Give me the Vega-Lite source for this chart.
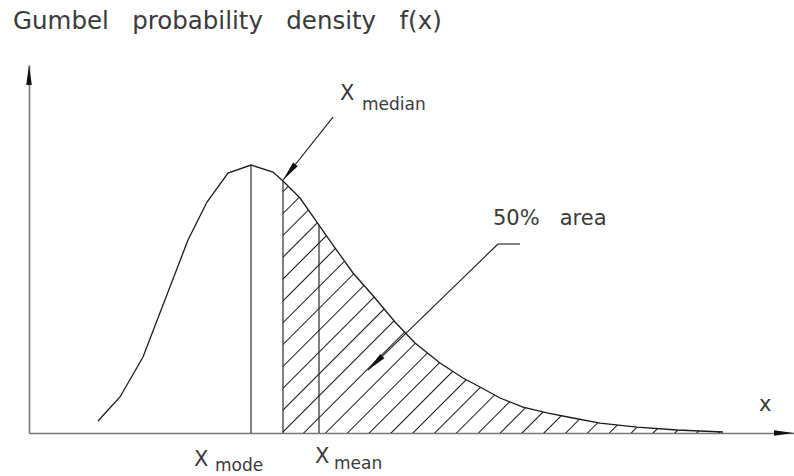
{
  "$schema": "https://vega.github.io/schema/vega-lite/v6.json",
  "width": 765,
  "height": 368,
  "autosize": "none",
  "padding": {"left": 29, "top": 65, "right": 0, "bottom": 43},
  "background": "white",
  "config": {
    "view": {"stroke": null},
    "text": {"font": "DejaVu Sans", "color": "#3a3a3a"},
    "axis": {"domain": true, "domainColor": "#777777", "domainWidth": 1.6, "ticks": false, "labels": false, "grid": false, "title": null}
  },
  "datasets": {
    "curve": [
      {"x": -1.53, "y": 0.0165},
      {"x": -1.31, "y": 0.0495},
      {"x": -1.08, "y": 0.1044},
      {"x": -0.63, "y": 0.2651},
      {"x": -0.44, "y": 0.3173},
      {"x": -0.23, "y": 0.3571},
      {"x": 0.0, "y": 0.3681},
      {"x": 0.22, "y": 0.3585},
      {"x": 0.32, "y": 0.3462},
      {"x": 0.49, "y": 0.3228},
      {"x": 0.68, "y": 0.2857},
      {"x": 0.82, "y": 0.2582},
      {"x": 1.02, "y": 0.2198},
      {"x": 1.24, "y": 0.1854},
      {"x": 1.44, "y": 0.1525},
      {"x": 1.64, "y": 0.1236},
      {"x": 1.89, "y": 0.0962},
      {"x": 2.12, "y": 0.0755},
      {"x": 2.29, "y": 0.0632},
      {"x": 2.49, "y": 0.0481},
      {"x": 2.72, "y": 0.0357},
      {"x": 2.96, "y": 0.0275},
      {"x": 3.22, "y": 0.0206},
      {"x": 3.49, "y": 0.0137},
      {"x": 3.86, "y": 0.0082},
      {"x": 4.26, "y": 0.0041},
      {"x": 4.72, "y": 0.0014}
    ],
    "stats": [
      {"name": "mode", "x": 0.0, "y": 0.3681},
      {"name": "median", "x": 0.32, "y": 0.3462},
      {"name": "mean", "x": 0.68, "y": 0.2857}
    ],
    "leaders": [
      {"name": "median", "x": 0.82, "y": 0.434, "x2": 0.32, "y2": 0.3475},
      {"name": "area", "x": 2.69, "y": 0.2596, "x2": 2.47, "y2": 0.2596},
      {"name": "area", "x": 2.47, "y": 0.2596, "x2": 1.17, "y2": 0.0865}
    ],
    "heads": [
      {"name": "median", "x": 0.32, "y": 0.3475},
      {"name": "area", "x": 1.17, "y": 0.0865}
    ],
    "axisEnds": [
      {"name": "y", "x": -2.22, "y": 0.5055},
      {"name": "x", "x": 5.43, "y": 0}
    ],
    "title": [
      {"label": "Gumbel\u00a0\u00a0\u00a0probability\u00a0\u00a0\u00a0density\u00a0\u00a0\u00a0f(x)", "x": -2.38, "y": 0.5549}
    ],
    "labels": [
      {"label": "X", "x": -0.57, "y": -0.0453},
      {"label": "X", "x": 0.64, "y": -0.0412},
      {"label": "X", "x": 0.89, "y": 0.4574},
      {"label": "50%\u00a0\u00a0\u00a0area", "x": 2.42, "y": 0.2857},
      {"label": "x", "x": 5.08, "y": 0.0302}
    ],
    "subs": [
      {"label": "mode", "x": -0.36, "y": -0.0522},
      {"label": "mean", "x": 0.83, "y": -0.0495},
      {"label": "median", "x": 1.11, "y": 0.4437}
    ]
  },
  "layer": [
    {
      "data": {"name": "curve"},
      "transform": [{"filter": "datum.x >= 0.32"}],
      "mark": {
        "type": "area",
        "fill": {
          "gradient": "linear",
          "x1": 0, "y1": 0, "x2": 1.184, "y2": 0.678,
          "stops": [
            {"offset": 0.01344, "color": "rgba(20,20,20,0)"}, {"offset": 0.01546, "color": "#141414"}, {"offset": 0.01749, "color": "rgba(20,20,20,0)"},
            {"offset": 0.04500, "color": "rgba(20,20,20,0)"}, {"offset": 0.04702, "color": "#141414"}, {"offset": 0.04905, "color": "rgba(20,20,20,0)"},
            {"offset": 0.07656, "color": "rgba(20,20,20,0)"}, {"offset": 0.07858, "color": "#141414"}, {"offset": 0.08061, "color": "rgba(20,20,20,0)"},
            {"offset": 0.10812, "color": "rgba(20,20,20,0)"}, {"offset": 0.11015, "color": "#141414"}, {"offset": 0.11217, "color": "rgba(20,20,20,0)"},
            {"offset": 0.13968, "color": "rgba(20,20,20,0)"}, {"offset": 0.14171, "color": "#141414"}, {"offset": 0.14373, "color": "rgba(20,20,20,0)"},
            {"offset": 0.17124, "color": "rgba(20,20,20,0)"}, {"offset": 0.17327, "color": "#141414"}, {"offset": 0.17529, "color": "rgba(20,20,20,0)"},
            {"offset": 0.20280, "color": "rgba(20,20,20,0)"}, {"offset": 0.20483, "color": "#141414"}, {"offset": 0.20685, "color": "rgba(20,20,20,0)"},
            {"offset": 0.23437, "color": "rgba(20,20,20,0)"}, {"offset": 0.23639, "color": "#141414"}, {"offset": 0.23841, "color": "rgba(20,20,20,0)"},
            {"offset": 0.26593, "color": "rgba(20,20,20,0)"}, {"offset": 0.26795, "color": "#141414"}, {"offset": 0.26997, "color": "rgba(20,20,20,0)"},
            {"offset": 0.29749, "color": "rgba(20,20,20,0)"}, {"offset": 0.29951, "color": "#141414"}, {"offset": 0.30153, "color": "rgba(20,20,20,0)"},
            {"offset": 0.32905, "color": "rgba(20,20,20,0)"}, {"offset": 0.33107, "color": "#141414"}, {"offset": 0.33309, "color": "rgba(20,20,20,0)"},
            {"offset": 0.36061, "color": "rgba(20,20,20,0)"}, {"offset": 0.36263, "color": "#141414"}, {"offset": 0.36465, "color": "rgba(20,20,20,0)"},
            {"offset": 0.39217, "color": "rgba(20,20,20,0)"}, {"offset": 0.39419, "color": "#141414"}, {"offset": 0.39621, "color": "rgba(20,20,20,0)"},
            {"offset": 0.42373, "color": "rgba(20,20,20,0)"}, {"offset": 0.42575, "color": "#141414"}, {"offset": 0.42777, "color": "rgba(20,20,20,0)"},
            {"offset": 0.45529, "color": "rgba(20,20,20,0)"}, {"offset": 0.45731, "color": "#141414"}, {"offset": 0.45934, "color": "rgba(20,20,20,0)"},
            {"offset": 0.48685, "color": "rgba(20,20,20,0)"}, {"offset": 0.48887, "color": "#141414"}, {"offset": 0.49090, "color": "rgba(20,20,20,0)"},
            {"offset": 0.51841, "color": "rgba(20,20,20,0)"}, {"offset": 0.52043, "color": "#141414"}, {"offset": 0.52246, "color": "rgba(20,20,20,0)"},
            {"offset": 0.54997, "color": "rgba(20,20,20,0)"}, {"offset": 0.55199, "color": "#141414"}, {"offset": 0.55402, "color": "rgba(20,20,20,0)"},
            {"offset": 0.58153, "color": "rgba(20,20,20,0)"}, {"offset": 0.58355, "color": "#141414"}, {"offset": 0.58558, "color": "rgba(20,20,20,0)"},
            {"offset": 0.61309, "color": "rgba(20,20,20,0)"}, {"offset": 0.61512, "color": "#141414"}, {"offset": 0.61714, "color": "rgba(20,20,20,0)"},
            {"offset": 0.64465, "color": "rgba(20,20,20,0)"}, {"offset": 0.64668, "color": "#141414"}, {"offset": 0.64870, "color": "rgba(20,20,20,0)"},
            {"offset": 0.67621, "color": "rgba(20,20,20,0)"}, {"offset": 0.67824, "color": "#141414"}, {"offset": 0.68026, "color": "rgba(20,20,20,0)"},
            {"offset": 0.70777, "color": "rgba(20,20,20,0)"}, {"offset": 0.70980, "color": "#141414"}, {"offset": 0.71182, "color": "rgba(20,20,20,0)"},
            {"offset": 0.73934, "color": "rgba(20,20,20,0)"}, {"offset": 0.74136, "color": "#141414"}, {"offset": 0.74338, "color": "rgba(20,20,20,0)"},
            {"offset": 0.77090, "color": "rgba(20,20,20,0)"}, {"offset": 0.77292, "color": "#141414"}, {"offset": 0.77494, "color": "rgba(20,20,20,0)"},
            {"offset": 0.80246, "color": "rgba(20,20,20,0)"}, {"offset": 0.80448, "color": "#141414"}, {"offset": 0.80650, "color": "rgba(20,20,20,0)"},
            {"offset": 0.83402, "color": "rgba(20,20,20,0)"}, {"offset": 0.83604, "color": "#141414"}, {"offset": 0.83806, "color": "rgba(20,20,20,0)"},
            {"offset": 0.86558, "color": "rgba(20,20,20,0)"}, {"offset": 0.86760, "color": "#141414"}, {"offset": 0.86963, "color": "rgba(20,20,20,0)"},
            {"offset": 0.89714, "color": "rgba(20,20,20,0)"}, {"offset": 0.89916, "color": "#141414"}, {"offset": 0.90119, "color": "rgba(20,20,20,0)"},
            {"offset": 0.92870, "color": "rgba(20,20,20,0)"}, {"offset": 0.93072, "color": "#141414"}, {"offset": 0.93275, "color": "rgba(20,20,20,0)"},
            {"offset": 0.96026, "color": "rgba(20,20,20,0)"}, {"offset": 0.96228, "color": "#141414"}, {"offset": 0.96431, "color": "rgba(20,20,20,0)"},
            {"offset": 0.99182, "color": "rgba(20,20,20,0)"}, {"offset": 0.99384, "color": "#141414"}, {"offset": 0.99587, "color": "rgba(20,20,20,0)"}
          ]
        },
        "stroke": null,
        "opacity": 1
      },
      "encoding": {
        "x": {"field": "x", "type": "quantitative", "scale": {"domain": [-2.22, 5.43], "nice": false, "zero": false}},
        "y": {"field": "y", "type": "quantitative", "scale": {"domain": [0, 0.5055], "nice": false}}
      }
    },
    {
      "data": {"name": "curve"},
      "mark": {"type": "line", "color": "#1a1a1a", "strokeWidth": 1.3},
      "encoding": {
        "x": {"field": "x", "type": "quantitative"},
        "y": {"field": "y", "type": "quantitative"}
      }
    },
    {
      "data": {"name": "stats"},
      "mark": {"type": "rule", "color": "#2a2a2a", "strokeWidth": 1.2},
      "encoding": {
        "x": {"field": "x", "type": "quantitative"},
        "y": {"field": "y", "type": "quantitative"},
        "y2": {"datum": 0}
      }
    },
    {
      "data": {"name": "leaders"},
      "mark": {"type": "rule", "color": "#1a1a1a", "strokeWidth": 1.1},
      "encoding": {
        "x": {"field": "x", "type": "quantitative"},
        "y": {"field": "y", "type": "quantitative"},
        "x2": {"field": "x2"},
        "y2": {"field": "y2"}
      }
    },
    {
      "data": {"name": "heads"},
      "transform": [{"filter": "datum.name == 'median'"}],
      "mark": {"type": "point", "shape": "M0,0L0.3,2L-0.3,2Z", "size": 400, "filled": true, "color": "#111111", "opacity": 1, "angle": 218.4},
      "encoding": {
        "x": {"field": "x", "type": "quantitative"},
        "y": {"field": "y", "type": "quantitative"}
      }
    },
    {
      "data": {"name": "heads"},
      "transform": [{"filter": "datum.name == 'area'"}],
      "mark": {"type": "point", "shape": "M0,0L0.3,2L-0.3,2Z", "size": 400, "filled": true, "color": "#111111", "opacity": 1, "angle": 225.9},
      "encoding": {
        "x": {"field": "x", "type": "quantitative"},
        "y": {"field": "y", "type": "quantitative"}
      }
    },
    {
      "data": {"name": "axisEnds"},
      "transform": [{"filter": "datum.name == 'y'"}],
      "mark": {"type": "point", "shape": "M0,0L0.28,2L-0.28,2Z", "size": 400, "filled": true, "color": "#111111", "opacity": 1},
      "encoding": {
        "x": {"field": "x", "type": "quantitative"},
        "y": {"field": "y", "type": "quantitative"}
      }
    },
    {
      "data": {"name": "axisEnds"},
      "transform": [{"filter": "datum.name == 'x'"}],
      "mark": {"type": "point", "shape": "M0,0L-2,-0.28L-2,0.28Z", "size": 400, "filled": true, "color": "#111111", "opacity": 1},
      "encoding": {
        "x": {"field": "x", "type": "quantitative"},
        "y": {"field": "y", "type": "quantitative"}
      }
    },
    {
      "data": {"name": "title"},
      "mark": {"type": "text", "fontSize": 24.5, "align": "left", "baseline": "alphabetic"},
      "encoding": {
        "x": {"field": "x", "type": "quantitative"},
        "y": {"field": "y", "type": "quantitative"},
        "text": {"field": "label"}
      }
    },
    {
      "data": {"name": "labels"},
      "mark": {"type": "text", "fontSize": 21, "align": "left", "baseline": "alphabetic"},
      "encoding": {
        "x": {"field": "x", "type": "quantitative"},
        "y": {"field": "y", "type": "quantitative"},
        "text": {"field": "label"}
      }
    },
    {
      "data": {"name": "subs"},
      "mark": {"type": "text", "fontSize": 17, "align": "left", "baseline": "alphabetic"},
      "encoding": {
        "x": {"field": "x", "type": "quantitative"},
        "y": {"field": "y", "type": "quantitative"},
        "text": {"field": "label"}
      }
    }
  ]
}
